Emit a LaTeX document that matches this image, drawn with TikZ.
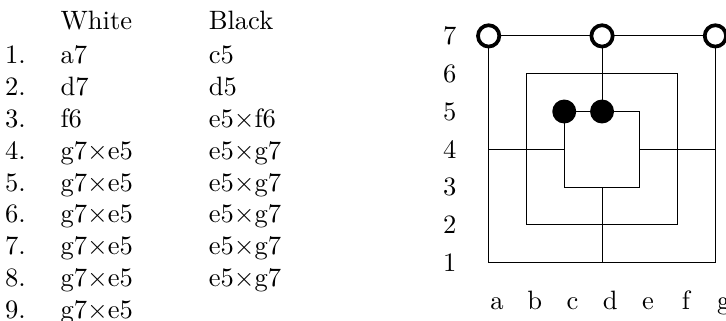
\documentclass[tikz,border=0pt]{standalone}
\begin{document}
\begin{tikzpicture}
		[x=0.5cm,y=0.5cm,
		wstone/.style={circle,draw,line width=1.4pt,fill=white,
			inner sep=0pt,minimum size=0.282cm},
		bstone/.style={circle,fill=black,
			inner sep=0pt,minimum size=0.317cm},
		move/.style={anchor=base west,inner sep=0pt}]
		\useasboundingbox (-12.93,-1.54) rectangle (6.28,6.95);
		\clip (-12.93,-1.54) rectangle (6.28,6.95);
		% move list
		\node[move] (hw) at (-11.34,6.17) {White};
		\node[move] (hb) at (-7.42,6.17) {Black};
		\foreach \n/\w/\b in {1/a7/c5,2/d7/d5,3/f6/e5$\times$f6,
			4/g7$\times$e5/e5$\times$g7,5/g7$\times$e5/e5$\times$g7,
			6/g7$\times$e5/e5$\times$g7,7/g7$\times$e5/e5$\times$g7,
			8/g7$\times$e5/e5$\times$g7,9/g7$\times$e5/{}}
		{
			\node[move] (n\n) at (-12.81,{5.26-0.841*(\n-1)}) {\n.};
			\node[move] (w\n) at (-11.34,{5.26-0.841*(\n-1)}) {\w};
			\node[move] (b\n) at (-7.42,{5.26-0.841*(\n-1)}) {\b};
		}
		% board points
		\foreach \c [count=\i from 0] in {a,...,g}
		\foreach \r in {1,...,7}
		\coordinate (\c\r) at (\i,\r-1);
		\draw (a1) -- (g1) -- (g7) -- (a7) -- cycle;
		\draw (b2) rectangle (f6);
		\draw (c3) rectangle (e5);
		\draw (a4) -- (c4);
		\draw (e4) -- (g4);
		\draw (d7) -- (d5);
		\draw (d3) -- (d1);
		% labels
		\foreach \c [count=\i from 0] in {a,...,g}
		\node[anchor=base] (col\c) at (\i+0.22,-1.25) {\c};
		\foreach \r in {1,...,7}
		\node (row\r) at (-1.03,\r-1) {\r};
		% stones
		\node[wstone] (sa7) at (a7) {};
		\node[wstone] (sd7) at (d7) {};
		\node[wstone] (sg7) at (g7) {};
		\node[bstone] (sc5) at (c5) {};
		\node[bstone] (sd5) at (d5) {};
\end{tikzpicture}
\end{document}
